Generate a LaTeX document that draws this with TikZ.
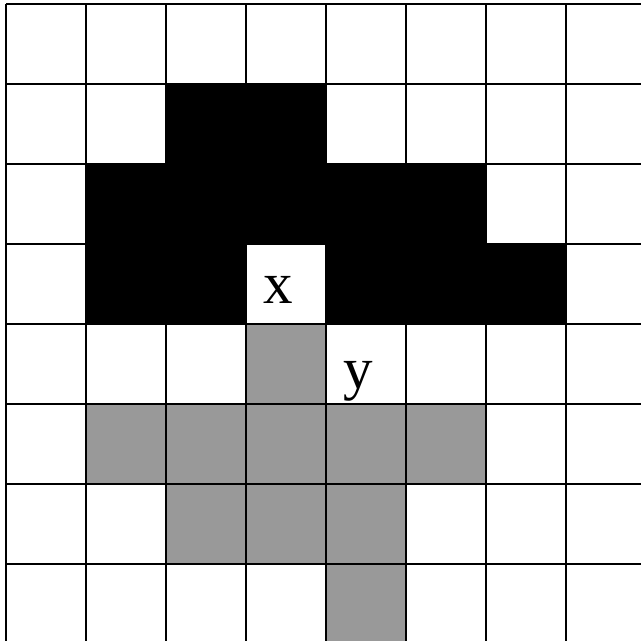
\documentclass[tikz,border=0pt]{standalone}
\usepackage{fontspec}
\setmainfont{Liberation Serif}
\definecolor{cellgray}{HTML}{999999}
\begin{document}
\begin{tikzpicture}[
  blackcell/.style={fill=black},
  graycell/.style={fill=cellgray},
  gridline/.style={line width=0.7pt, black},
  lbl/.style={anchor=base, inner sep=0pt, font=\fontsize{21}{24}\selectfont}
]
\useasboundingbox (-0.075,0.0375) rectangle (7.9375,8.05);
% black cells (row r from top: y from 7-r to 8-r)
\foreach \c/\r in {2/1,3/1, 1/2,2/2,3/2,4/2,5/2, 1/3,2/3,4/3,5/3,6/3}{
  \fill[blackcell] (\c,{7-\r}) rectangle ++(1,1);
}
% gray cells
\foreach \c/\r in {3/4, 1/5,2/5,3/5,4/5,5/5, 2/6,3/6,4/6, 4/7}{
  \fill[graycell] (\c,{7-\r}) rectangle ++(1,1);
}
\draw[gridline] (0,0) grid (8,8);
\node[lbl] (x) at (3.4,4.2625) {x};
\node[lbl] (y) at (4.406,3.2) {y};
\end{tikzpicture}
\end{document}
